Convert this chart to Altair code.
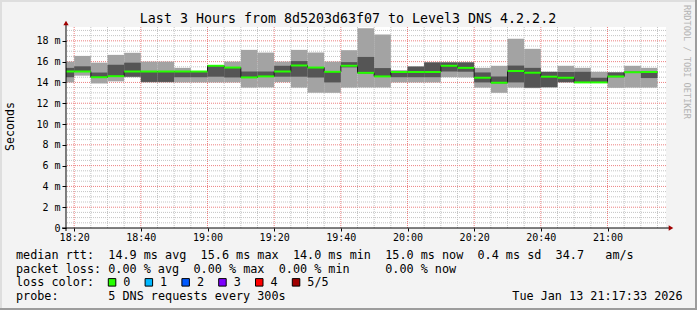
import re
import altair as alt
import pandas as pd

# ---------------- data ----------------
bar_start = ["18:15", "18:20", "18:25", "18:30", "18:35", "18:40", "18:45", "18:50", "18:55",
             "19:00", "19:05", "19:10", "19:15", "19:20", "19:25", "19:30", "19:35", "19:40",
             "19:45", "19:50", "19:55", "20:00", "20:05", "20:10", "20:15", "20:20", "20:25",
             "20:30", "20:35", "20:40", "20:45", "20:50", "20:55", "21:00", "21:05", "21:10"]
rtt_min = [14.0, 14.65, 13.9, 14.1, 14.5, 14.0, 14.0, 14.0, 14.0, 14.0, 14.0, 13.5, 13.52, 14.02,
           13.5, 13.0, 13.0, 13.5, 13.5, 13.5, 14.0, 14.0, 14.0, 14.5, 14.48, 13.5, 13.0, 13.5,
           13.45, 13.5, 14.0, 13.95, 13.95, 13.48, 13.5, 13.5]
rtt_q2 = [14.5, 15.0, 14.45, 14.55, 14.55, 14.05, 14.05, 14.5, 14.5, 14.55, 14.48, 14.45, 14.55,
          14.55, 14.55, 14.48, 14.0, 15.45, 14.88, 14.55, 14.5, 14.5, 14.5, 15.05, 15.03, 14.0,
          13.95, 14.0, 13.5, 13.55, 14.02, 13.97, 13.97, 14.5, 14.96, 14.42]
rtt_med = [15.05, 15.05, 14.5, 14.6, 15.05, 15.05, 15.05, 15.05, 15.05, 15.6, 15.43, 14.48, 14.58,
           15.05, 15.63, 15.43, 15.02, 15.6, 14.92, 14.58, 15.0, 15.0, 15.0, 15.6, 15.4, 14.45,
           13.97, 15.1, 14.93, 14.55, 14.45, 14.0, 14.0, 14.57, 14.98, 15.0]
rtt_q4 = [15.4, 15.55, 14.95, 15.7, 15.9, 15.08, 15.08, 15.1, 15.07, 15.63, 15.45, 15.05, 15.05,
          15.6, 16.05, 15.45, 15.05, 15.95, 16.45, 15.38, 15.12, 15.52, 15.92, 15.92, 15.92, 14.96,
          14.57, 15.62, 15.4, 15.0, 15.0, 15.02, 14.45, 14.95, 15.0, 15.02]
rtt_max = [16.0, 16.55, 15.9, 16.65, 16.85, 16.0, 16.0, 15.4, 15.1, 15.65, 16.0, 17.13, 16.87, 16.0,
           17.13, 16.87, 16.0, 17.1, 19.22, 18.62, 15.15, 15.55, 15.95, 15.95, 15.95, 15.4, 15.6,
           18.2, 17.23, 15.05, 15.6, 15.4, 15.02, 15.0, 15.6, 15.4]

window = ["18:17:33", "21:17:33"]
x_ticks = ["18:20", "18:40", "19:00", "19:20", "19:40", "20:00", "20:20", "20:40", "21:00"]
y_ticks = [0, 2, 4, 6, 8, 10, 12, 14, 16, 18]
y_top = 19.33

title_text = "Last 3 Hours from 8d5203d63f07 to Level3 DNS 4.2.2.2"
y_title = "Seconds"
watermark = "RRDTOOL / TOBI OETIKER"
legend_rows = [
    "median rtt:  14.9 ms avg  15.6 ms max  14.0 ms min  15.0 ms now  0.4 ms sd  34.7   am/s",
    "packet loss: 0.00 % avg  0.00 % max  0.00 % min     0.00 % now",
    "loss color:",
    "probe:       5 DNS requests every 300s",
]
loss_labels = ["0", "1", "2", "3", "4", "5/5"]
loss_colors = ["#26ff00", "#00b8ff", "#0059ff", "#7e00ff", "#ff0000", "#a10000"]
stamp = "Tue Jan 13 21:17:33 2026"

# ---------------- layout / style ----------------
FONT = "DejaVu Sans Mono"
L, T, W, H = 66, 27, 600, 201
TOTAL_W, TOTAL_H = 697, 310
BG = "#f3f3f3"
LIGHT = "#a3a3a3"
DARK = "#555555"
MAJOR = "#ec8080"
MINOR = "#c4c4c4"
CW = 7.1                 # monospace advance of legend text
LEG_SIZE = CW / 0.602
ROW_Y = [255, 268.6, 282.4, 296.2]


def to_min(s):
    p = s.split(":")
    m = (int(p[0]) - 18) * 60 + int(p[1])
    if len(p) > 2:
        m += int(p[2]) / 60.0
    return m


x0, x1 = to_min(window[0]), to_min(window[1])
xs = alt.Scale(domain=[x0, x1], nice=False, zero=False)
ys = alt.Scale(domain=[0, y_top], nice=False, zero=False)

major_x = [to_min(t) for t in x_ticks]
minor_x = [m for m in range(int(major_x[0]), int(x1) + 1, 5) if m not in major_x]
major_y = [v for v in y_ticks if v > 0]
minor_y = [i * 0.5 for i in range(1, int(y_top * 2) + 1) if (i * 0.5) not in y_ticks]

x_axis = alt.Axis(values=major_x, title=None, domain=False, grid=False,
                  labelExpr="(floor(datum.value/60)+18) + ':' + (datum.value%60 < 10 ? '0' : '') + (datum.value%60)",
                  labelFont=FONT, labelFontSize=10, labelColor="black", tickColor="black",
                  tickSize=3, labelPadding=1.5, labelOverlap=False, labelFlush=False)
y_axis = alt.Axis(values=y_ticks, title=None, domain=False, grid=False,
                  labelExpr="datum.value == 0 ? '0' : datum.value + ' m'",
                  labelFont=FONT, labelFontSize=10, labelColor="black", tickColor="black",
                  tickSize=4, labelPadding=2)


def X(f):
    return alt.X(f, scale=xs, axis=x_axis, title=None)


def Y(f):
    return alt.Y(f, scale=ys, axis=y_axis, title=None)


df = pd.DataFrame(dict(t0=[to_min(s) for s in bar_start], lo=rtt_min, q2=rtt_q2,
                       med=rtt_med, q4=rtt_q4, hi=rtt_max))
df["t1"] = df["t0"] + 5
step = pd.DataFrame(dict(t=list(df["t0"]) + [df["t1"].iloc[-1]],
                         med=list(df["med"]) + [df["med"].iloc[-1]]))

gx_minor = alt.Chart(pd.DataFrame({"v": minor_x})).mark_rule(color=MINOR, strokeDash=[1, 1]).encode(x=X("v:Q"))
gy_minor = alt.Chart(pd.DataFrame({"v": minor_y})).mark_rule(color=MINOR, strokeDash=[1, 1]).encode(y=Y("v:Q"))
gx_major = alt.Chart(pd.DataFrame({"v": major_x})).mark_rule(color=MAJOR, strokeDash=[1, 1]).encode(x=X("v:Q"))
gy_major = alt.Chart(pd.DataFrame({"v": major_y})).mark_rule(color=MAJOR, strokeDash=[1, 1]).encode(y=Y("v:Q"))

base = alt.Chart(df)
smoke_light = base.mark_rect(color=LIGHT, clip=True).encode(x=X("t0:Q"), x2="t1:Q", y=Y("lo:Q"), y2="hi:Q")
smoke_dark = base.mark_rect(color=DARK, clip=True).encode(x=X("t0:Q"), x2="t1:Q", y=Y("q2:Q"), y2="q4:Q")
step_line = alt.Chart(step).mark_line(interpolate="step-after", color="#1a1a1a", strokeWidth=1,
                                      clip=True).encode(x=X("t:Q"), y=Y("med:Q"))
median = base.mark_rule(color=loss_colors[0], strokeWidth=2, clip=True).encode(
    x=X("t0:Q"), x2="t1:Q", y=Y("med:Q"))

one = pd.DataFrame({"a": [0]})


def rule(x=None, x2=None, y=None, y2=None, color="black", width=1):
    enc = {}
    if x is not None:
        enc["x"] = alt.value(x)
    if x2 is not None:
        enc["x2"] = alt.value(x2)
    if y is not None:
        enc["y"] = alt.value(y)
    if y2 is not None:
        enc["y2"] = alt.value(y2)
    return alt.Chart(one).mark_rule(color=color, strokeWidth=width).encode(**enc)


def txt(s, ax, ay, size=LEG_SIZE, align="left", angle=0, color="black"):
    return alt.Chart(one).mark_text(text=s, font=FONT, fontSize=size, align=align,
                                    baseline="middle", angle=angle, color=color).encode(
        x=alt.value(ax - L), y=alt.value(ay - T))


axis_lines = [
    rule(x=0, y=-4, y2=H + 3),
    rule(x=-4, x2=W + 4, y=H),
]
arrows = [
    alt.Chart(one).mark_point(shape="triangle-up", filled=True, size=28, color="#a00000",
                              opacity=1).encode(x=alt.value(0), y=alt.value(-4)),
    alt.Chart(one).mark_point(shape="triangle-right", filled=True, size=28, color="#a00000",
                              opacity=1).encode(x=alt.value(W + 5), y=alt.value(H)),
]
border = [
    rule(x=-L, x2=TOTAL_W - L, y=-T + 1, color="#dedede", width=2),
    rule(x=-L + 1, y=-T, y2=TOTAL_H - T, color="#dedede", width=2),
    rule(x=TOTAL_W - L - 1, y=-T, y2=TOTAL_H - T, color="#9c9c9c", width=2),
    rule(x=-L, x2=TOTAL_W - L, y=TOTAL_H - T - 1, color="#9c9c9c", width=2),
]

texts = [
    txt(title_text, 348, 19, size=13.3, align="center"),
    txt(y_title, 10.5, 126.5, size=11.6, align="center", angle=270),
    txt(watermark, 686.5, 5, size=8.6, angle=90, color="#b3b3b3"),
]
# legend rows: monospace layout, each word group placed at its character column
for row, ry in zip(legend_rows, ROW_Y):
    for m in re.finditer(r"\S+(?: \S+)*", row):
        texts.append(txt(m.group(0), 16 + m.start() * CW, ry))

boxes = []
for i, (lab, col) in enumerate(zip(loss_labels, loss_colors)):
    bx = 16 + 13 * CW + 36.8 * i
    boxes.append(alt.Chart(one).mark_rect(color=col, stroke="black", strokeWidth=1).encode(
        x=alt.value(bx - L), x2=alt.value(bx + 7.5 - L),
        y=alt.value(ROW_Y[2] - 3.8 - T), y2=alt.value(ROW_Y[2] + 3.7 - T)))
    texts.append(txt(lab, bx + 15, ROW_Y[2]))
texts.append(txt(stamp, 512.3, ROW_Y[3]))

chart = alt.layer(
    gx_minor, gy_minor, gx_major, gy_major,
    smoke_light, smoke_dark, step_line, median,
    *axis_lines, *arrows, *border, *boxes, *texts
).properties(
    width=W, height=H,
    padding={"left": L, "top": T, "right": TOTAL_W - L - W, "bottom": TOTAL_H - T - H},
    autosize=alt.AutoSizeParams(type="none"),
    background=BG,
).configure_view(stroke=None, fill="white")

chart.save("out.html", embed_options={"renderer": "svg", "actions": False})
